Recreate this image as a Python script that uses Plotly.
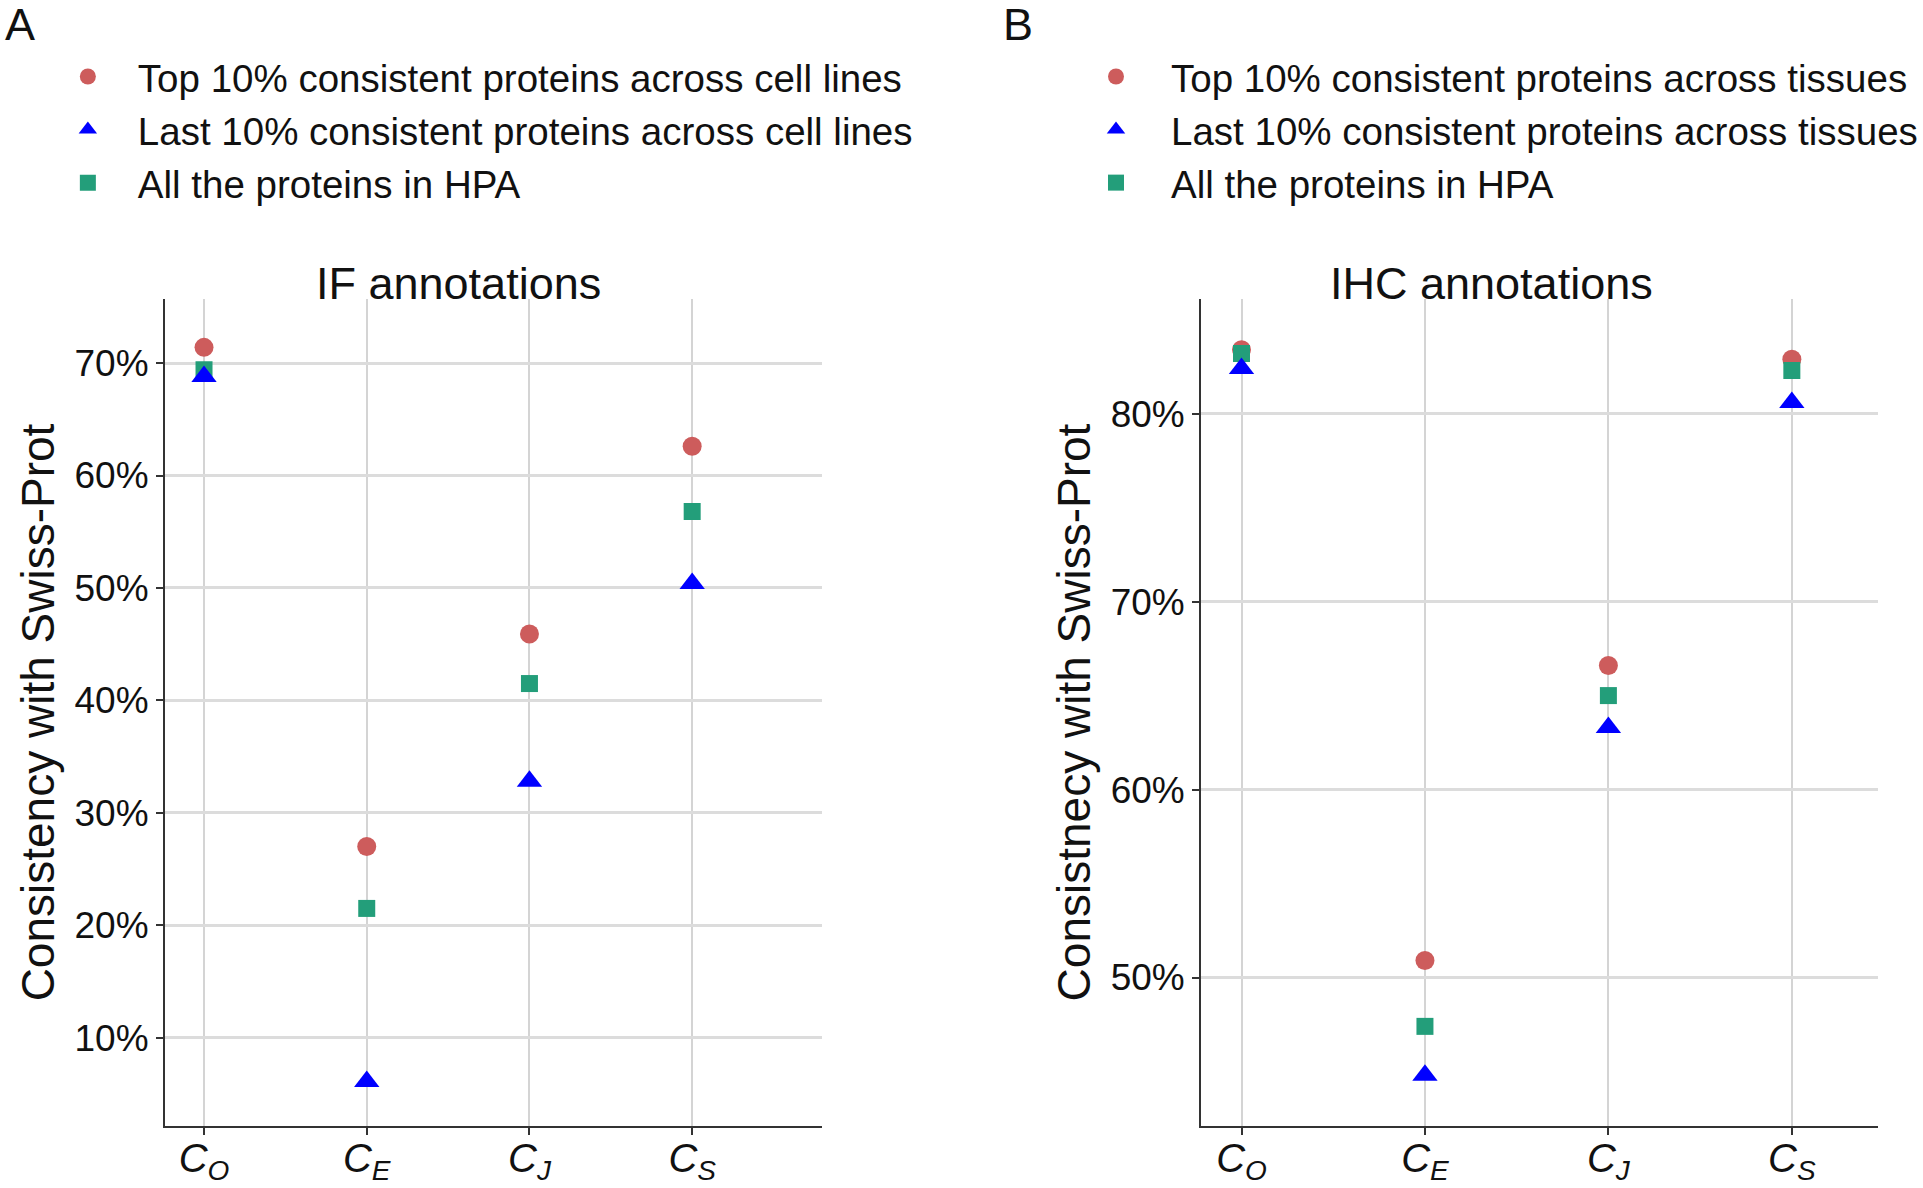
import plotly.graph_objects as go

# ---------------- data ----------------
categories = ["CO", "CE", "CJ", "CS"]
tick_labels = ["<i>C</i><sub><i>O</i></sub>", "<i>C</i><sub><i>E</i></sub>",
               "<i>C</i><sub><i>J</i></sub>", "<i>C</i><sub><i>S</i></sub>"]

# Panel A: IF annotations (% consistency with Swiss-Prot)
if_top10 = [71.4, 27.0, 45.9, 62.6]
if_last10 = [68.8, 6.1, 32.8, 50.4]
if_all = [69.4, 21.5, 41.5, 56.8]

# Panel B: IHC annotations
ihc_top10 = [83.4, 50.9, 66.6, 82.9]
ihc_last10 = [82.4, 44.8, 63.3, 80.6]
ihc_all = [83.2, 47.4, 65.0, 82.3]

left_yticks = [10, 20, 30, 40, 50, 60, 70]
left_ytick_labels = ["10%", "20%", "30%", "40%", "50%", "60%", "70%"]
right_yticks = [50, 60, 70, 80]
right_ytick_labels = ["50%", "60%", "70%", "80%"]

names_A = ["Top 10% consistent proteins across cell lines",
           "Last 10% consistent proteins across cell lines",
           "All the proteins in HPA"]
names_B = ["Top 10% consistent proteins across tissues",
           "Last 10% consistent proteins across tissues",
           "All the proteins in HPA"]

# ---------------- style ----------------
RED = "#cd5c5c"
BLUE = "#0000ff"
GREEN = "#239e7a"
FONT = "Liberation Sans, Arial, sans-serif"

fig = go.Figure()


def add_panel(xa, ya, legend, top, last, allp, names):
    # draw order: red, green, blue (blue on top); legend order red, blue, green
    fig.add_trace(go.Scatter(x=categories, y=top, mode="markers", name=names[0],
                             marker=dict(symbol="circle", size=19, color=RED),
                             xaxis=xa, yaxis=ya, legend=legend, legendrank=1))
    fig.add_trace(go.Scatter(x=categories, y=allp, mode="markers", name=names[2],
                             marker=dict(symbol="square", size=17, color=GREEN),
                             xaxis=xa, yaxis=ya, legend=legend, legendrank=3))
    fig.add_trace(go.Scatter(x=categories, y=last, mode="markers", name=names[1],
                             marker=dict(symbol="triangle-up", size=22, color=BLUE),
                             xaxis=xa, yaxis=ya, legend=legend, legendrank=2))


add_panel("x", "y", "legend", if_top10, if_last10, if_all, names_A)
add_panel("x2", "y2", "legend2", ihc_top10, ihc_last10, ihc_all, names_B)

W, H = 1923, 1188

xaxis_common = dict(
    type="category", categoryorder="array", categoryarray=categories,
    tickvals=categories, ticktext=tick_labels,
    showgrid=True, gridcolor="#d4d4d4", gridwidth=1.5,
    showline=True, linecolor="#333333", linewidth=2,
    ticks="outside", ticklen=7, tickwidth=2, tickcolor="#333333",
    tickfont=dict(family=FONT, size=40, color="#111111"),
    ticklabelstandoff=-11,
    zeroline=False,
)
yaxis_common = dict(
    showgrid=True, gridcolor="#dcdcdc", gridwidth=2.5,
    showline=True, linecolor="#333333", linewidth=2,
    ticks="outside", ticklen=7, tickwidth=2, tickcolor="#333333",
    tickfont=dict(family=FONT, size=37, color="#111111"),
    zeroline=False,
)
ytitle_font = dict(family=FONT, size=46, color="#111111")

legend_font = dict(family=FONT, size=38.5, color="#111111")

fig.update_layout(
    width=W, height=H,
    margin=dict(l=0, r=0, t=0, b=0),
    paper_bgcolor="white", plot_bgcolor="white",
    font=dict(family=FONT, color="#111111"),
    showlegend=True,
    xaxis=dict(xaxis_common, domain=[0.0861, 0.4292], range=[-0.24, 3.8], anchor="y"),
    yaxis=dict(yaxis_common, domain=[0.0522, 0.7483], range=[2.15, 75.7],
               tickvals=left_yticks, ticktext=left_ytick_labels, anchor="x",
               title=dict(text="Consistency with Swiss-Prot", font=ytitle_font, standoff=5)),
    xaxis2=dict(xaxis_common, domain=[0.6269, 0.9802], range=[-0.22, 3.47], anchor="y2"),
    yaxis2=dict(yaxis_common, domain=[0.0522, 0.7483], range=[42.1, 86.1],
                tickvals=right_yticks, ticktext=right_ytick_labels, anchor="x2",
                title=dict(text="Consistnecy with Swiss-Prot", font=ytitle_font, standoff=6)),
    legend=dict(x=38 / W, y=1 - 45 / H, xanchor="left", yanchor="top",
                bgcolor="rgba(0,0,0,0)", font=legend_font,
                traceorder="normal", itemsizing="trace", itemwidth=90),
    legend2=dict(x=1065 / W, y=1 - 45 / H, xanchor="left", yanchor="top",
                 bgcolor="rgba(0,0,0,0)", font=legend_font,
                 traceorder="normal", itemsizing="trace", itemwidth=100),
)

annotations = [
    dict(text="A", x=20 / W, y=1 - 24 / H, xref="paper", yref="paper",
         xanchor="center", yanchor="middle", showarrow=False,
         font=dict(family=FONT, size=45, color="#111111")),
    dict(text="B", x=1022 / W, y=1 - 24 / H, xref="paper", yref="paper",
         xanchor="center", yanchor="middle", showarrow=False,
         font=dict(family=FONT, size=45, color="#111111")),
    dict(text="IF annotations", x=460 / W, y=1 - 283 / H, xref="paper", yref="paper",
         xanchor="center", yanchor="middle", showarrow=False,
         font=dict(family=FONT, size=45, color="#111111")),
    dict(text="IHC annotations", x=1497 / W, y=1 - 283 / H, xref="paper", yref="paper",
         xanchor="center", yanchor="middle", showarrow=False,
         font=dict(family=FONT, size=45, color="#111111")),
]
fig.update_layout(annotations=annotations)

fig.write_html(
    "out.html",
    config={"displayModeBar": False},
    post_script="document.body.style.margin='0';document.body.style.overflow='hidden';",
)
